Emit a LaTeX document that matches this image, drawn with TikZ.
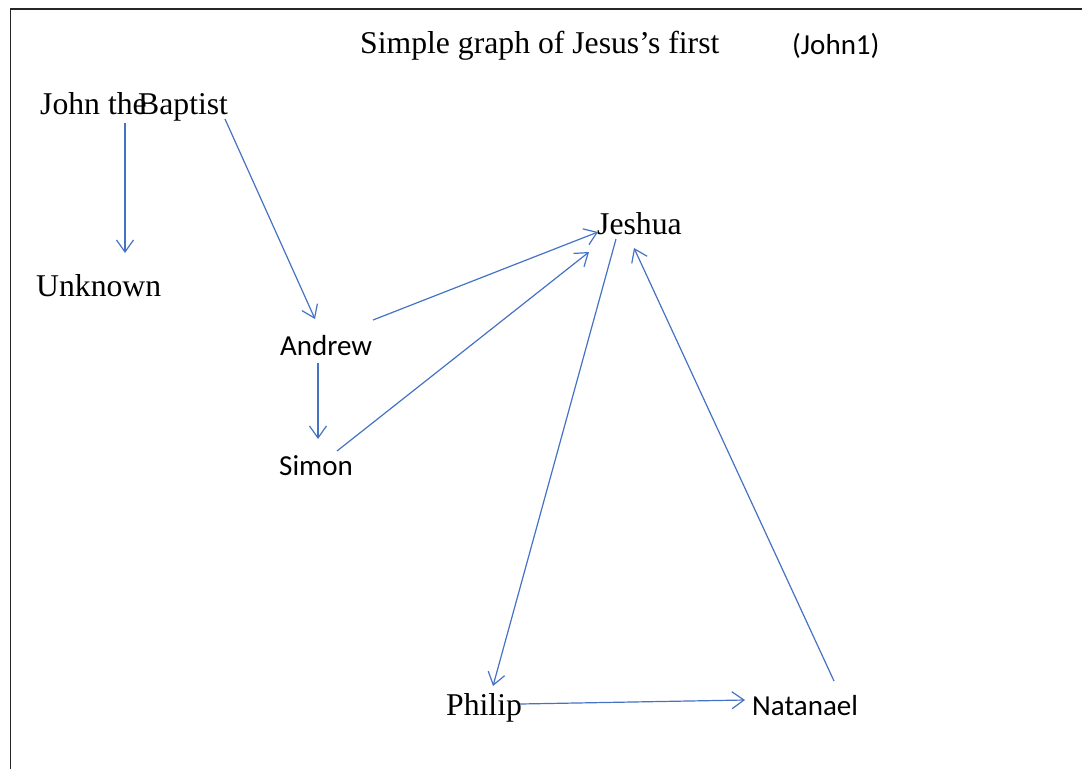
\documentclass[tikz,border=0pt]{standalone}
\usepackage{fontspec}
\setmainfont{Liberation Serif}
\newfontfamily\calibrifont{Carlito}
\usetikzlibrary{arrows.meta}
\definecolor{linkblue}{HTML}{4472C4}
\tikzset{
  serif label/.style={anchor=base west, inner sep=0pt, font=\fontsize{31.7}{36}\selectfont},
  sans label/.style={anchor=base west, inner sep=0pt, font=\calibrifont\fontsize{29}{34}\selectfont},
  link/.style={draw=linkblue, line width=1.2pt, -{Straight Barb[length=12pt,width=17pt,line width=1.2pt]}},
  frame/.style={draw=black!85, line width=1.6pt}
}
\begin{document}
\begin{tikzpicture}[x=1pt,y=-1pt]
\useasboundingbox (0,0) rectangle (1082,769);
% page edges
\draw[frame] (10.5,769) -- (10.5,9) -- (1082,9);

% labels
\node[serif label] (title) at (360,53) {Simple graph of Jesus’s first};
\node[sans label] (ref) at (792,54) {(John1)};
\node[serif label] (john) at (40,114) {John the};
\node[serif label] (baptist) at (138,114) {Baptist};
\node[serif label] (unknown) at (36,296) {Unknown};
\node[serif label] (jeshua) at (597,234) {Jeshua};
\node[sans label] (andrew) at (280,355) {Andrew};
\node[sans label] (simon) at (279,475) {Simon};
\node[serif label] (philip) at (446,715) {Philip};
\node[sans label] (natanael) at (752,715) {Natanael};

% connector ends
\coordinate (john-out) at (125,123);
\coordinate (unknown-in) at (125,253);
\coordinate (baptist-out) at (225,119);
\coordinate (andrew-in) at (315,319);
\coordinate (andrew-out) at (373,320);
\coordinate (andrew-down) at (318,363);
\coordinate (simon-in) at (318,439);
\coordinate (simon-out) at (337,451);
\coordinate (jeshua-in1) at (598,232);
\coordinate (jeshua-in2) at (589,252);
\coordinate (jeshua-out) at (616,239);
\coordinate (jeshua-in3) at (634,248);
\coordinate (philip-in) at (493,686);
\coordinate (philip-out) at (520,704);
\coordinate (natanael-in) at (745,700);
\coordinate (natanael-out) at (834,681);

% connectors
\draw[link] (john-out) -- (unknown-in);
\draw[link] (baptist-out) -- (andrew-in);
\draw[link] (andrew-out) -- (jeshua-in1);
\draw[link] (andrew-down) -- (simon-in);
\draw[link] (simon-out) -- (jeshua-in2);
\draw[link] (jeshua-out) -- (philip-in);
\draw[link] (philip-out) -- (natanael-in);
\draw[link] (natanael-out) -- (jeshua-in3);
\end{tikzpicture}
\end{document}
